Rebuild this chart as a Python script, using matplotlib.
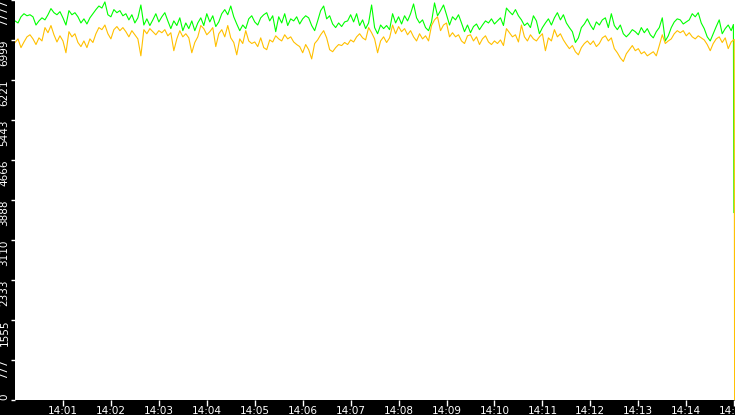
import numpy as np
import pandas as pd
import matplotlib
matplotlib.use('Agg')
from matplotlib import pyplot as plt
import matplotlib.dates as mdates

# values, one every 3.75 s from 14:00:00
green = [
    7370,7330,7450,7510,7470,7490,7450,7290,7370,7430,7390,7490,7610,7530,7490,7550,7430,7290,7570,7490,
    7530,7450,7330,7410,7310,7430,7510,7590,7660,7620,7740,7490,7450,7590,7530,7570,7470,7510,7390,7490,
    7330,7430,7680,7290,7410,7280,7390,7510,7350,7450,7530,7370,7220,7370,7280,7430,7180,7330,7220,7370,
    7180,7330,7430,7280,7510,7350,7470,7260,7350,7510,7590,7490,7660,7450,7310,7180,7290,7220,7410,7470,
    7350,7290,7430,7490,7530,7370,7470,7160,7450,7330,7510,7280,7410,7370,7450,7310,7410,7470,7430,7280,
    7180,7370,7570,7660,7410,7470,7310,7240,7330,7260,7350,7370,7490,7350,7510,7280,7390,7220,7330,7680,
    7240,7120,7290,7220,7280,7200,7510,7330,7450,7310,7470,7370,7510,7700,7430,7330,7390,7240,7180,7350,
    7720,7470,7570,7680,7490,7290,7450,7390,7490,7330,7160,7290,7140,7260,7310,7200,7290,7370,7330,7410,
    7310,7370,7430,7280,7620,7550,7490,7590,7470,7390,7280,7330,7240,7470,7370,7120,7240,7330,7410,7290,
    7430,7530,7390,7490,7330,7240,7160,6950,7040,7240,7310,7410,7290,7200,7350,7290,7390,7430,7240,7510,
    7280,7200,7290,7120,7060,7120,7200,7160,7100,7240,7140,7220,7100,7040,7160,7240,7430,6980,7080,7240,
    7350,7410,7390,7310,7350,7390,7510,7450,7530,7330,7220,7060,6980,7120,7260,7390,7120,7220,7290,7180,
]
orange = [
    6950,7020,6850,6960,7060,7100,7020,6910,7040,6980,7240,7140,7280,7100,6960,7080,6980,6750,7160,7060,
    7120,6950,6870,6980,6850,7020,6950,7120,7240,7200,7290,7120,7020,7200,7260,7180,7240,7160,7060,7180,
    7100,7020,6690,7200,7120,7220,7160,7100,7180,7140,7200,7080,7140,6790,7020,7180,7060,7120,7040,6750,
    6950,7060,7280,7220,7100,7160,7240,6870,7120,7200,7060,7280,7040,6950,6710,7020,6930,7180,6980,6930,
    6960,6870,7040,6850,6810,7000,6960,7080,7020,6980,7100,7020,7060,6960,6910,6870,6750,6910,6810,6630,
    6930,7000,7100,7180,7040,6810,6770,6850,6910,6890,6950,6910,7000,6960,7060,7120,7040,7000,7240,7140,
    7020,6750,6980,7060,6950,7040,7290,7120,7260,7160,7220,7100,7180,7060,6980,7120,7020,7080,6980,7280,
    7390,7450,7180,7290,7330,7060,7140,7060,7100,6980,6930,7080,7100,6980,7060,6910,7020,7080,6960,6910,
    6980,6930,7000,6890,7220,7140,7060,7100,6960,7290,7060,6980,7100,7020,6980,7060,7120,6790,7040,6980,
    7200,7060,7120,7000,6910,6830,6890,6770,6710,6850,6930,6980,6910,6980,6870,6930,7040,7080,6980,7040,
    6830,6750,6650,6580,6730,6810,6890,6790,6830,6730,6770,6690,6730,6770,6690,6890,7100,6930,6980,7020,
    7120,7180,7140,7180,7080,7140,7060,7020,7080,7040,7000,6910,6790,6930,7020,7060,6950,7040,6830,6960,
]
# the two last samples of each series, where both fall away at the end
green_tail = [7300, 3640]
green_tail_t = ['2024-01-01 14:14:59.0', '2024-01-01 14:14:59.6']
orange_tail = [7010, 0]
orange_tail_t = ['2024-01-01 14:15:00.0', '2024-01-01 14:15:00.5']

ymax = 7777
ytick_vals = np.linspace(0, ymax, 11)
ytick_labels = ['%d' % v for v in ytick_vals]

base = list(pd.date_range('2024-01-01 14:00:00', periods=len(green), freq='3750ms'))
g_t = base + [pd.Timestamp(t) for t in green_tail_t]
o_t = base + [pd.Timestamp(t) for t in orange_tail_t]
g = green + green_tail
o = orange + orange_tail

fig = plt.figure(figsize=(7.35, 4.15), dpi=100, facecolor='black')
ax = fig.add_axes([15/735, 15.5/415, 720/735, 399.5/415])
ax.set_facecolor('white')

ax.plot(g_t, g, color='#00ff00', lw=0.8)
ax.plot(o_t, o, color='#ffc000', lw=0.8)

ax.set_xlim(pd.Timestamp('2024-01-01 14:00:00'), pd.Timestamp('2024-01-01 14:15:01'))
ax.set_ylim(0, ymax)

xt = pd.date_range('2024-01-01 14:01:00', '2024-01-01 14:15:00', freq='1min')
ax.set_xticks(xt)
ax.xaxis.set_major_formatter(mdates.DateFormatter('%H:%M'))
ax.set_yticks(ytick_vals)
ax.set_yticklabels(ytick_labels)

for s in ax.spines.values():
    s.set_visible(False)

ax.tick_params(axis='x', colors='white', length=4, width=1, pad=0.5, labelsize=7.5)
ax.tick_params(axis='y', colors='white', length=3, width=1, pad=1, labelsize=7.5)
for lab in ax.get_yticklabels():
    lab.set_rotation(90)
    lab.set_verticalalignment('top')
ax.get_yticklabels()[0].set_verticalalignment('bottom')

fig.savefig('out.png', dpi=100, facecolor='black')
